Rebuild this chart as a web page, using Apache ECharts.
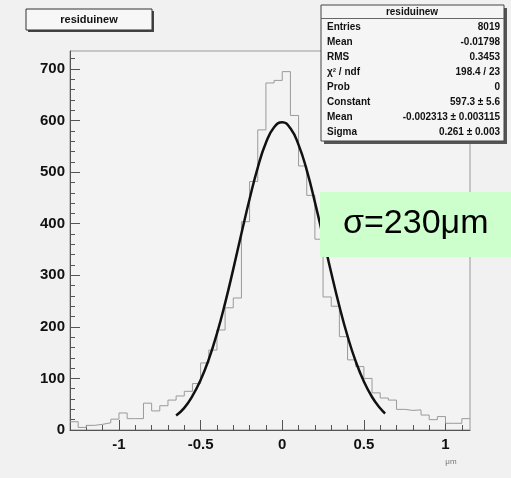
<!DOCTYPE html>
<html>
<head>
<meta charset="utf-8">
<script src="https://cdn.jsdelivr.net/npm/echarts@6/dist/echarts.min.js"></script>
<style>
    html, body { margin: 0; padding: 0; background: #f1f1f1; }
    #main { width: 511px; height: 478px; }
</style>
</head>
<body>
<div id="main"></div>
<script>
// histogram "residuinew": 49 bins of 0.05 starting at -1.3
var binStart = -1.3;
var binWidth = 0.05;
var counts = [16, 5, 9, 11, 14, 21, 33, 22, 22, 52, 37, 47, 58, 66, 75, 90, 130, 155, 194, 237,
    256, 404, 482, 582, 673, 678, 695, 610, 512, 455, 370, 258, 240, 181, 136, 123, 100, 72, 62, 58,
    40, 38, 39, 29, 20, 26, 13, 13, 22];

// gaussian fit curve
var fitX = [-0.65, -0.6, -0.55, -0.5, -0.45, -0.4, -0.35, -0.3, -0.25, -0.2, -0.15, -0.1, -0.05, 0,
    0.05, 0.1, 0.15, 0.2, 0.25, 0.3, 0.35, 0.4, 0.45, 0.5, 0.55, 0.6, 0.63];
var fitY = [28, 43, 66, 97, 137, 187, 246, 312, 381, 448, 509, 557, 587, 597,
    585, 553, 504, 442, 374, 305, 240, 182, 133, 94, 64, 42, 32];

// axis ticks
var xMajor = [-1, -0.5, 0, 0.5, 1];
var xMinor = [-1.2, -1.1, -1, -0.9, -0.8, -0.7, -0.6, -0.5, -0.4, -0.3, -0.2, -0.1, 0, 0.1, 0.2, 0.3, 0.4, 0.5, 0.6, 0.7, 0.8, 0.9, 1, 1.1];
var yMajor = [0, 100, 200, 300, 400, 500, 600, 700];
var yMinor = [0, 20, 40, 60, 80, 100, 120, 140, 160, 180, 200, 220, 240, 260, 280, 300, 320, 340, 360, 380, 400,
    420, 440, 460, 480, 500, 520, 540, 560, 580, 600, 620, 640, 660, 680, 700, 720];

// stats box
var statTitle = 'residuinew';
var statLabels = ['Entries', 'Mean', 'RMS', 'χ² / ndf', 'Prob', 'Constant', 'Mean', 'Sigma'];
var statValues = ['8019', '-0.01798', '0.3453', '198.4 / 23', '0', '597.3 ± 5.6', '-0.002313 ± 0.003115', '0.261 ± 0.003'];
var sigmaNote = 'σ=230μm';
var xUnit = 'μm';

var FONT = '"Liberation Sans", Arial, Helvetica, sans-serif';

var histData = counts.map(function (c, i) {
    return [+(binStart + i * binWidth).toFixed(3), c];
});
histData.push([+(binStart + counts.length * binWidth).toFixed(3), counts[counts.length - 1]]);

var fitData = fitX.map(function (x, i) { return [x, fitY[i]]; });

var graphics = [
    // title box
    { type: 'rect', z: 100, shape: { x: 28, y: 11, width: 126, height: 21 }, style: { fill: '#444' } },
    { type: 'rect', z: 101, shape: { x: 26, y: 9, width: 126, height: 21 }, style: { fill: '#f7f7f7', stroke: '#333', lineWidth: 1 } },
    { type: 'text', z: 102, x: 89, y: 20, style: { text: statTitle, font: 'bold 11px ' + FONT, fill: '#111', align: 'center', verticalAlign: 'middle' } },
    // stats box
    { type: 'rect', z: 100, shape: { x: 324, y: 8, width: 183, height: 136 }, style: { fill: '#555' } },
    { type: 'rect', z: 101, shape: { x: 321, y: 5, width: 183, height: 136 }, style: { fill: '#f5f5f5', stroke: '#444', lineWidth: 1 } },
    { type: 'line', z: 102, shape: { x1: 321, y1: 18.5, x2: 504, y2: 18.5 }, style: { stroke: '#666', lineWidth: 1 } },
    { type: 'text', z: 102, x: 412, y: 12, style: { text: statTitle, font: 'bold 10px ' + FONT, fill: '#111', align: 'center', verticalAlign: 'middle' } },
    // sigma note
    { type: 'rect', z: 100, shape: { x: 320, y: 192, width: 191, height: 65 }, style: { fill: '#ccffcc' } },
    { type: 'text', z: 102, x: 343, y: 224, style: { text: sigmaNote, font: '34px ' + FONT, fill: '#000', verticalAlign: 'middle' } },
    // x unit
    { type: 'text', z: 102, x: 451, y: 462, style: { text: xUnit, font: '8px ' + FONT, fill: '#777', align: 'center', verticalAlign: 'middle' } }
];
statLabels.forEach(function (lab, i) {
    var y = 27 + i * 15.1;
    graphics.push({ type: 'text', z: 102, x: 327, y: y, style: { text: lab, font: 'bold 10px ' + FONT, fill: '#111', verticalAlign: 'middle' } });
    graphics.push({ type: 'text', z: 102, x: 500, y: y, style: { text: statValues[i], font: 'bold 10px ' + FONT, fill: '#111', align: 'right', verticalAlign: 'middle' } });
});

var chart = echarts.init(document.getElementById('main'));
chart.setOption({
    backgroundColor: '#f1f1f1',
    animation: false,
    grid: { left: 70, top: 51, right: 41, bottom: 48, show: true, borderColor: '#999', borderWidth: 1, backgroundColor: '#f3f3f3' },
    xAxis: [
        {
            type: 'value', min: -1.3, max: 1.15, position: 'bottom',
            axisLine: { show: true, onZero: false, lineStyle: { color: '#555', width: 1 } },
            axisTick: { show: true, inside: true, length: 10, customValues: xMajor, lineStyle: { color: '#555' } },
            axisLabel: { customValues: xMajor, margin: 7, color: '#111', fontSize: 15, fontWeight: 'bold', fontFamily: FONT },
            splitLine: { show: false }
        },
        {
            type: 'value', min: -1.3, max: 1.15, position: 'bottom', offset: 0,
            axisLine: { show: false, onZero: false },
            axisTick: { show: true, inside: true, length: 5, customValues: xMinor, lineStyle: { color: '#555' } },
            axisLabel: { show: false },
            splitLine: { show: false }
        }
    ],
    yAxis: [
        {
            type: 'value', min: 0, max: 735, position: 'left',
            axisLine: { show: true, onZero: false, lineStyle: { color: '#555', width: 1 } },
            axisTick: { show: true, inside: true, length: 10, customValues: yMajor, lineStyle: { color: '#555' } },
            axisLabel: { customValues: yMajor, margin: 5, color: '#111', fontSize: 15, fontWeight: 'bold', fontFamily: FONT },
            splitLine: { show: false }
        },
        {
            type: 'value', min: 0, max: 735, position: 'left', offset: 0,
            axisLine: { show: false, onZero: false },
            axisTick: { show: true, inside: true, length: 5, customValues: yMinor, lineStyle: { color: '#555' } },
            axisLabel: { show: false },
            splitLine: { show: false }
        }
    ],
    series: [
        {
            name: 'residuinew', type: 'line', step: 'end', data: histData,
            symbol: 'none', lineStyle: { color: '#9a9a9a', width: 1 }, z: 3
        },
        {
            name: 'fit', type: 'line', smooth: true, data: fitData,
            symbol: 'none', lineStyle: { color: '#111', width: 2.5 }, z: 4
        }
    ],
    graphic: graphics
});
</script>
</body>
</html>
